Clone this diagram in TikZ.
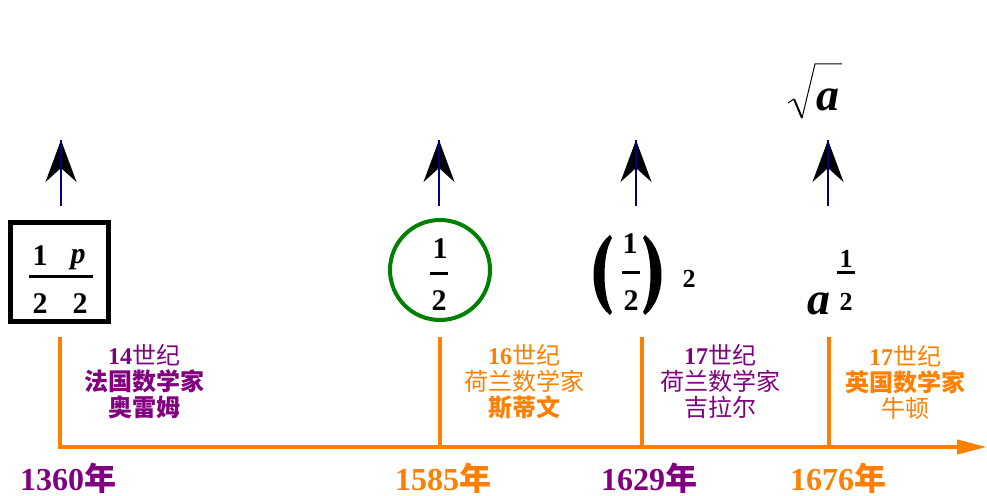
\documentclass[tikz,border=0pt]{standalone}
\usepackage{fontspec}
\setmainfont{Liberation Serif}
\newfontfamily\cjk{Noto Sans CJK SC}
\usetikzlibrary{arrows.meta}
\definecolor{pur}{HTML}{800080}
\definecolor{org}{HTML}{FF8000}
\definecolor{grn}{HTML}{008000}
\definecolor{nav}{HTML}{000080}
\begin{document}
\begin{tikzpicture}[x=1pt,y=-1pt,
  axisline/.style={draw=org, line width=4pt, line join=miter},
  headstyle/.style={draw=nav, line width=1.5pt, -{Stealth[length=42pt,width=31pt,inset=14pt,color=black]}},
  shaft/.style={draw=nav, line width=1.5pt},
  lbl/.style={align=center, font=\fontsize{24}{26}\selectfont, inner sep=0pt},
  yr/.style={font=\fontsize{32}{34}\selectfont\bfseries, inner sep=0pt, anchor=base},
  num/.style={font=\fontsize{30}{32}\selectfont\bfseries, inner sep=0pt, anchor=base},
  sm/.style={font=\fontsize{26}{28}\selectfont\bfseries, inner sep=0pt, anchor=base},
  avar/.style={font=\fontsize{46}{48}\selectfont\bfseries\itshape, inner sep=0pt, anchor=base},
  bar/.style={line width=3pt}]
\useasboundingbox (0,0) rectangle (987,495);

% timeline
\coordinate (v1t) at (60,337); \coordinate (v1b) at (60,447);
\coordinate (v2t) at (440,337); \coordinate (v2b) at (440,447);
\coordinate (v3t) at (642,337); \coordinate (v3b) at (642,447);
\coordinate (v4t) at (829,337); \coordinate (v4b) at (829,447);
\coordinate (axend) at (987,447);
\draw[axisline, -{Triangle[length=30pt,width=14pt]}] (v1t) -- (v1b) -- (axend);
\draw[axisline] (v2t) -- (v2b);
\draw[axisline] (v3t) -- (v3b);
\draw[axisline] (v4t) -- (v4b);

% upward arrows
\foreach \i/\x in {1/61, 2/439, 3/636, 4/828} {
  \coordinate (ab\i) at (\x,206);
  \coordinate (at\i) at (\x,140);
  \draw[headstyle] (ab\i) -- (at\i);
  \draw[shaft] (ab\i) -- (at\i);
}

% box 1/2 p/2
\node[draw, line width=5pt, minimum width=98pt, minimum height=99pt, inner sep=0pt] (box) at (59,271.5) {};
\node[num] (b1) at (40,265) {1};
\node[num, font=\fontsize{30}{32}\selectfont\bfseries\itshape] (bp) at (78,263) {p};
\coordinate (bl) at (29,276); \coordinate (br) at (93,276);
\draw[bar] (bl) -- (br);
\node[num] (b2) at (40,313) {2};
\node[num] (b3) at (80,313) {2};

% circle 1/2
\node[circle, draw=grn, line width=4pt, minimum size=100pt, inner sep=0pt] (circ) at (440,270) {};
\node[num] (c1) at (440,258) {1};
\coordinate (cl) at (430,273); \coordinate (cr) at (448,273);
\draw[bar] (cl) -- (cr);
\node[num] (c2) at (439,310) {2};

% (1/2)^2
\fill (610,235) .. controls (588,252) and (588,298) .. (610,315) -- (612,312) .. controls (602,296) and (602,254) .. (612,238) -- cycle;
\fill (645,235) .. controls (667,252) and (667,298) .. (645,315) -- (643,312) .. controls (653,296) and (653,254) .. (643,238) -- cycle;
\node[num] (p1) at (630,253) {1};
\coordinate (pl) at (622,272); \coordinate (pr) at (640,272);
\draw[bar] (pl) -- (pr);
\node[num] (p2) at (631,310) {2};
\node[sm] (p3) at (689,287) {2};

% a^{1/2}
\node[avar] (a1) at (819,314) {a};
\node[sm] (e1) at (846,267) {1};
\coordinate (el) at (837,272); \coordinate (er) at (855,272);
\draw[bar] (el) -- (er);
\node[sm] (e2) at (846,310) {2};

% sqrt a
\node[avar] (a2) at (828,110) {a};
\draw[line width=1pt, line join=round] (788,103) -- (794,99);
\draw[line width=2pt] (794,99) -- (802,118);
\draw[line width=1pt] (802,118) -- (815,64) -- (842,64);

% labels
\node[lbl, text=pur] (l1) at (144,382) {{\bfseries 14}{\cjk 世纪}\\{\cjk\bfseries 法国数学家}\\{\cjk\bfseries 奥雷姆}};
\node[lbl, text=org] (l2) at (524,382) {{\bfseries 16}{\cjk 世纪}\\{\cjk 荷兰数学家}\\{\cjk\bfseries 斯蒂文}};
\node[lbl, text=pur] (l3) at (720,382) {{\bfseries 17}{\cjk 世纪}\\{\cjk 荷兰数学家}\\{\cjk 吉拉尔}};
\node[lbl, text=org] (l4) at (905,382) {{\bfseries 17}{\cjk 世纪}\\{\cjk\bfseries 英国数学家}\\{\cjk 牛顿}};

% years
\node[yr, text=pur] (y1) at (68,490) {1360{\cjk 年}};
\node[yr, text=org] (y2) at (443,490) {1585{\cjk 年}};
\node[yr, text=pur] (y3) at (649,490) {1629{\cjk 年}};
\node[yr, text=org] (y4) at (838,490) {1676{\cjk 年}};
\end{tikzpicture}
\end{document}
